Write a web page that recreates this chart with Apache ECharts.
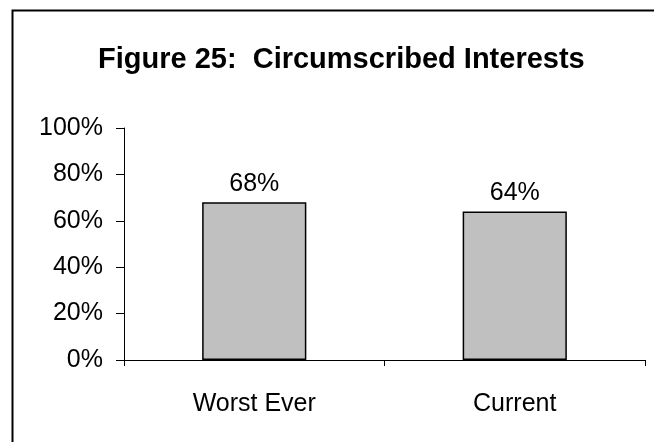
<!DOCTYPE html>
<html><head><meta charset="utf-8">
<script src="https://cdn.jsdelivr.net/npm/echarts@6/dist/echarts.min.js"></script>
<style>html,body{margin:0;padding:0;background:#fff}#c{width:654px;height:442px}</style>
</head><body><div id="c"></div>
<script>
const titleText = 'Figure 25:  Circumscribed Interests';
const categories = ['Worst Ever', 'Current'];
const values = [68, 64];
const yTicks = [0, 20, 40, 60, 80, 100];

const chart = echarts.init(document.getElementById('c'), null, {renderer: 'canvas'});
const font = 'Liberation Sans, Arial, sans-serif';
chart.setOption({
  animation: false,
  backgroundColor: '#fff',
  title: {
    text: titleText, left: 93, top: 40,
    textStyle: {fontFamily: font, fontWeight: 'bold', fontSize: 29, color: '#000'}
  },
  graphic: [{
    type: 'rect', left: 10, top: 8, z: 100,
    shape: {width: 700, height: 500},
    style: {fill: 'none', stroke: '#000', lineWidth: 2}
  }],
  grid: {left: 124, right: 9, top: 128, bottom: 82},
  xAxis: {
    type: 'category', data: categories,
    axisLine: {lineStyle: {color: '#000', width: 1}},
    axisTick: {show: true, length: 6, lineStyle: {color: '#000'}},
    axisLabel: {fontFamily: font, fontSize: 25, color: '#000', margin: 32}
  },
  yAxis: {
    type: 'value', min: 0, max: 100, interval: 20,
    axisLine: {show: true, lineStyle: {color: '#000', width: 1}},
    axisTick: {show: true, length: 8, lineStyle: {color: '#000'}},
    splitLine: {show: false},
    axisLabel: {fontFamily: font, fontSize: 25, color: '#000', margin: 21,
      formatter: v => yTicks.includes(v) ? v + '%' : ''}
  },
  series: [{
    type: 'bar', data: values, barWidth: '40%',
    itemStyle: {color: '#c0c0c0', borderColor: '#000', borderWidth: 1.5},
    label: {show: true, position: 'top', distance: 6, formatter: p => p.value + '%',
      fontFamily: font, fontSize: 25, color: '#000'}
  }]
});
</script></body></html>
